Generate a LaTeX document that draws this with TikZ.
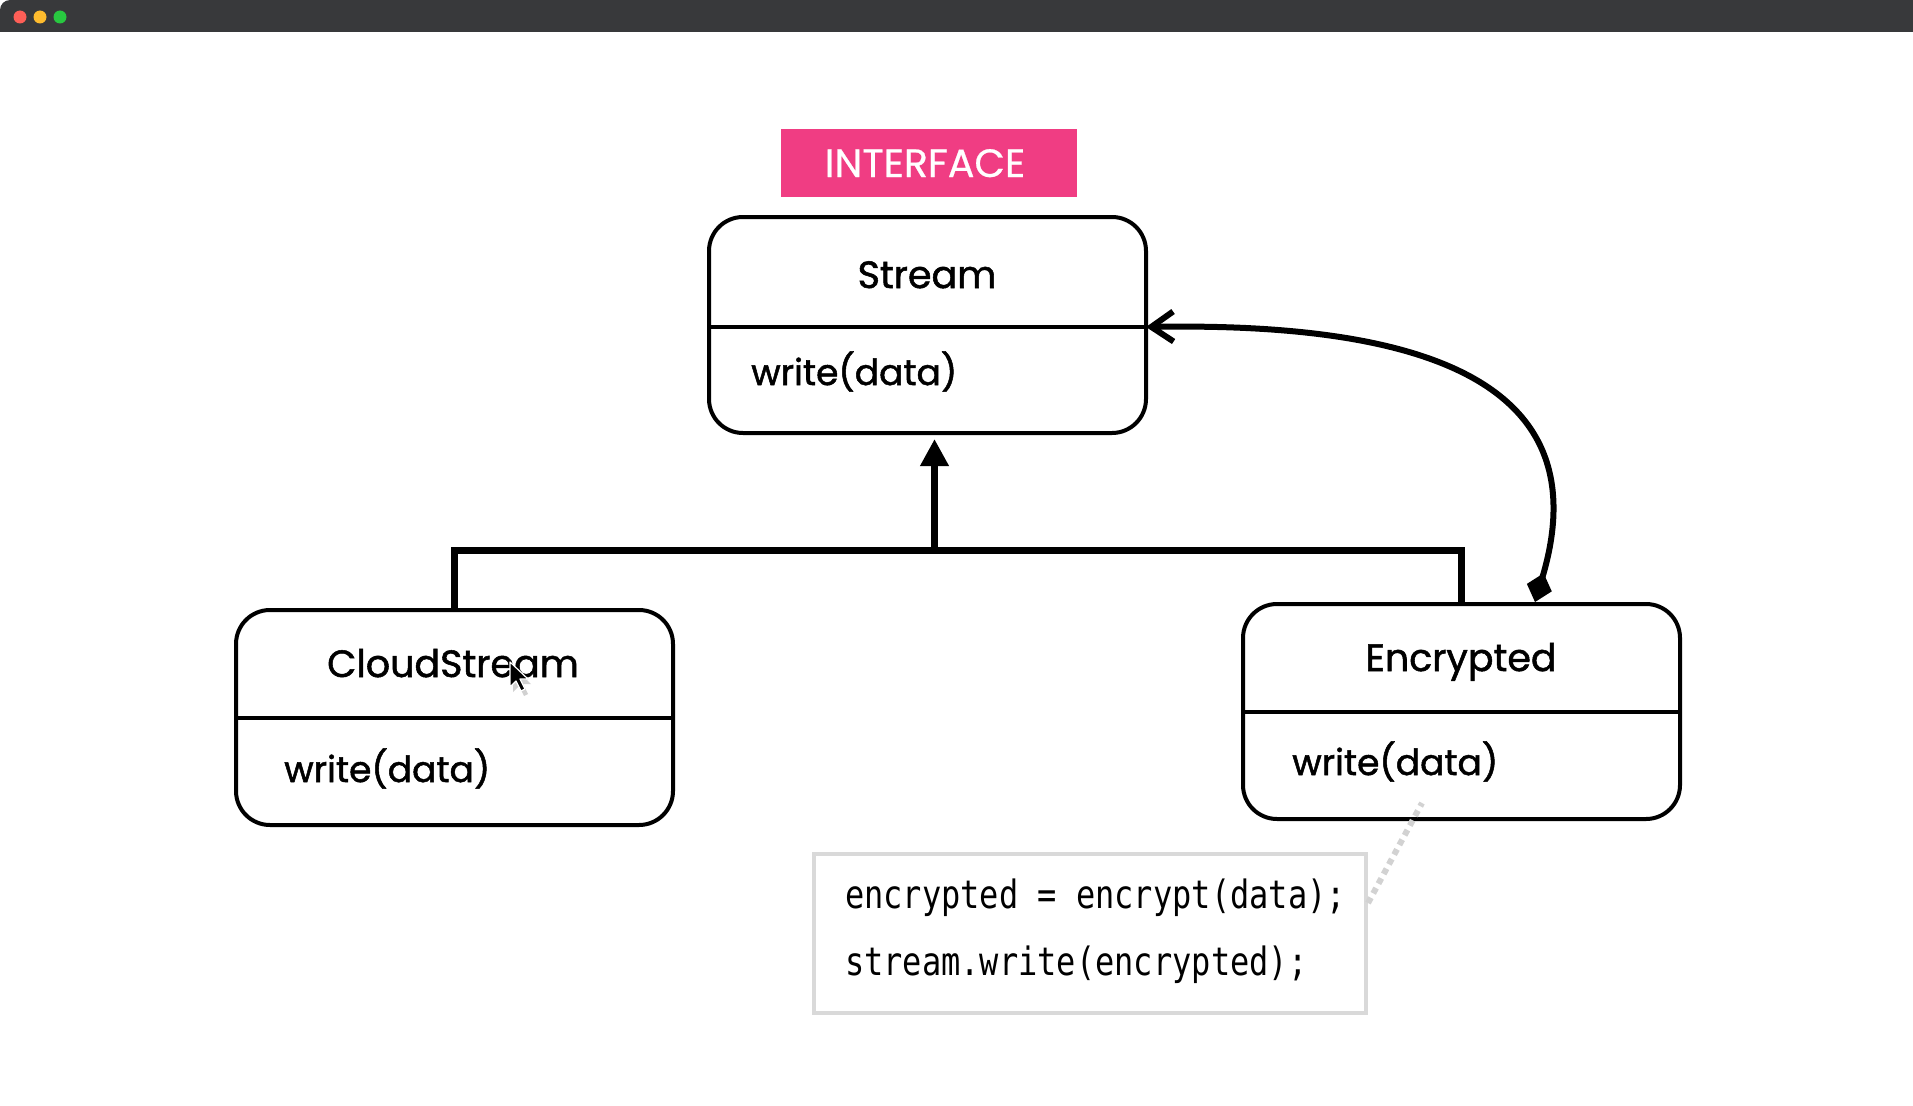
\documentclass[tikz,border=0pt]{standalone}
\usepackage{fontspec}
\setmainfont{Poppins}
\newfontfamily\medfont{Poppins}[RawFeature={embolden=1.4}]
\newfontfamily\tagfont{Poppins}[RawFeature={embolden=0.6}]
\newfontfamily\codefont[FakeStretch=0.82]{DejaVu Sans Mono}
\usetikzlibrary{arrows.meta,calc}

\definecolor{barcol}{HTML}{38393B}
\definecolor{dotred}{HTML}{FE5F57}
\definecolor{dotyellow}{HTML}{FEBC2E}
\definecolor{dotgreen}{HTML}{28C840}
\definecolor{tagpink}{HTML}{F03D83}
\definecolor{notegray}{HTML}{D9D9D9}
\definecolor{linkgray}{HTML}{D2D2D2}

\tikzset{
  classbox/.style={draw, line width=4pt, rounded corners=34pt, minimum width=437pt,
    minimum height=215pt, anchor=north west, inner sep=0pt, outer sep=0pt},
  classtitle/.style={anchor=base, inner sep=0pt, font=\medfont\fontsize{38pt}{42pt}\selectfont},
  classop/.style={anchor=base west, inner sep=0pt, font=\medfont\fontsize{36pt}{40pt}\selectfont},
  divider/.style={line width=4pt},
  link/.style={line width=7pt},
  codeline/.style={anchor=base west, inner sep=0pt, font=\codefont\fontsize{39pt}{44pt}\selectfont},
  winbutton/.style={circle, minimum size=13pt, inner sep=0pt},
}

\begin{document}
\begin{tikzpicture}[x=1pt, y=-1pt]
  % page
  \useasboundingbox (0,0) rectangle (1913,1105);
  \fill[white] (0,0) rectangle (1913,1105);

  % window title bar
  \fill[barcol, rounded corners=10pt] (0,0) rectangle (1913,32);
  \fill[barcol] (0,16) rectangle (1913,32);
  \fill[barcol] (1890,0) rectangle (1913,32);
  \node[winbutton, fill=dotred] (btnclose) at (20,17) {};
  \node[winbutton, fill=dotyellow] (btnmin) at (40,17) {};
  \node[winbutton, fill=dotgreen] (btnmax) at (60,17) {};

  % interface tag
  \node[fill=tagpink, minimum width=296pt, minimum height=68pt, anchor=north west,
        inner sep=0pt] (tag) at (781,129) {};
  \node[anchor=base, inner sep=0pt, text=white, font=\tagfont\fontsize{39.5pt}{42pt}\selectfont]
        (tagtext) at (925,177) {INTERFACE};

  % class boxes
  \node[classbox, minimum height=216pt] (stream) at (709,217) {};
  \node[classbox] (cloud) at (236,610) {};
  \node[classbox] (enc) at (1243,604) {};

  \coordinate (sdiv) at (0,327);
  \coordinate (cdiv) at (0,718);
  \coordinate (ediv) at (0,712);
  \draw[divider] (stream.west |- sdiv) -- (stream.east |- sdiv);
  \draw[divider] (cloud.west |- cdiv) -- (cloud.east |- cdiv);
  \draw[divider] (enc.west |- ediv) -- (enc.east |- ediv);

  \node[classtitle] (streamname) at (927,288) {Stream};
  \node[classop] (streamop) at (751,385) {write(data)};
  \node[classtitle] (cloudname) at (453,677) {CloudStream};
  \node[classop] (cloudop) at (284,782) {write(data)};
  \node[classtitle] (encname) at (1461,671) {Encrypted};
  \node[classop] (encop) at (1292,775) {write(data)};

  % inheritance
  \coordinate (bus) at (0,550);
  \draw[link] (cloud.north) -- (cloud.north |- bus) -- (enc.north |- bus) -- (enc.north);
  \draw[link, -{Triangle[length=27pt,width=27pt]}]
        ([xshift=7pt]stream.south |- bus) -- ([xshift=7pt,yshift=-6pt]stream.south);

  % aggregation back to the interface
  \coordinate (aggstart) at ($(enc.north west)+(292,-2)$);
  \draw[line width=6pt, {Diamond[length=30pt,width=26pt]}-{Straight Barb[length=22pt,width=30pt]}]
        (aggstart) .. controls (1600,385) and (1430,322) .. (stream.east |- sdiv);

  % note with the decorator's code
  \node[draw=notegray, line width=4pt, minimum width=552pt, minimum height=159pt,
        anchor=north west, inner sep=0pt] (note) at (812,852) {};
  \node[codeline] (code1) at (845,908) {encrypted = encrypt(data);};
  \node[codeline] (code2) at (845,975) {stream.write(encrypted);};
  \coordinate (notestart) at (1422,803);
  \coordinate (noteend) at (note.east |- 0,903);
  \draw[linkgray, line width=6pt, dash pattern=on 6pt off 5pt] (noteend) -- (notestart);

  % mouse pointer
  \fill[black, opacity=0.18] (513,667) -- ++(0,25) -- ++(6,-6) -- ++(5,10)
        -- ++(4,-2) -- ++(-5,-10) -- ++(8,0) -- cycle;
  \draw[white, line width=1.2pt, fill=black, line join=round] (510,662) -- ++(0,25)
        -- ++(6,-6) -- ++(5,10) -- ++(4,-2) -- ++(-5,-10) -- ++(8,0) -- cycle;
\end{tikzpicture}
\end{document}
